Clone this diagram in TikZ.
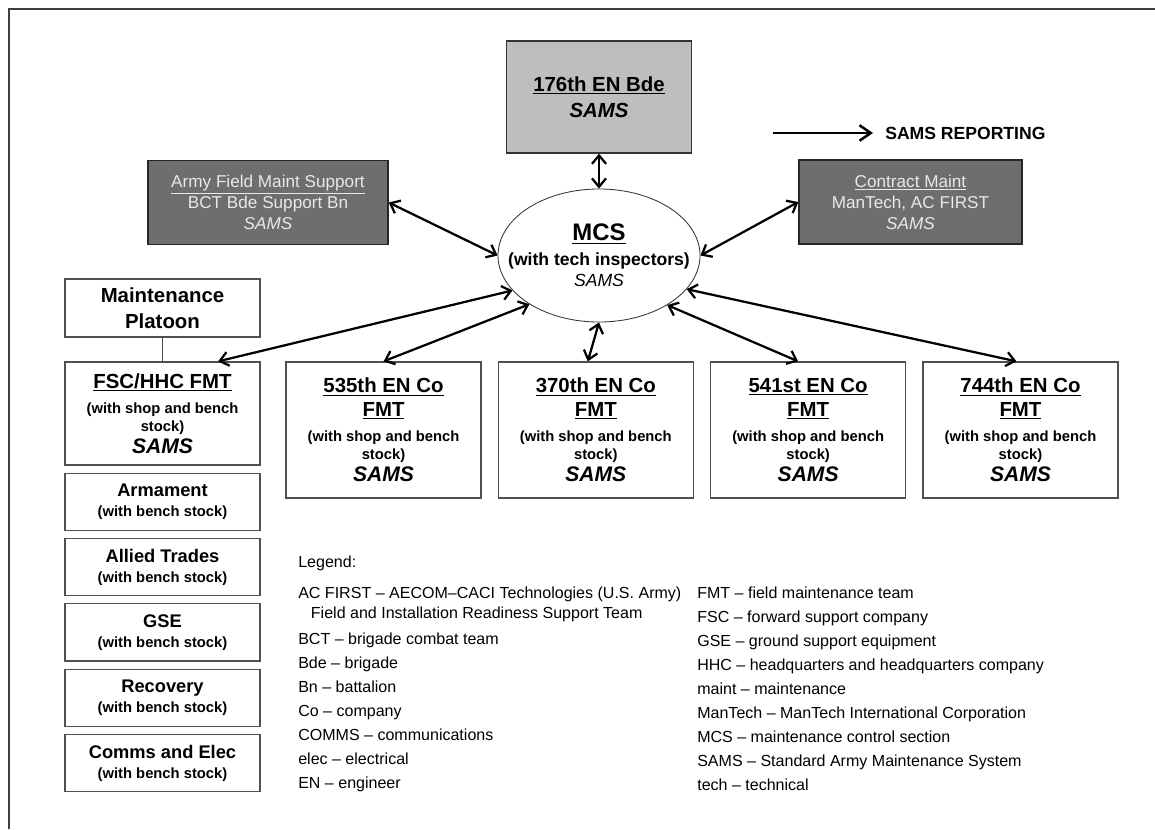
\documentclass[tikz,border=0pt]{standalone}
\usepackage{fontspec}
\setmainfont{Liberation Sans}
\usetikzlibrary{arrows.meta, positioning, shapes.geometric, calc}

\definecolor{boxline}{HTML}{505050}
\definecolor{darkfill}{HTML}{6E6E6E}
\definecolor{lightfill}{HTML}{BEBEBE}
\definecolor{paletext}{HTML}{E8E8E8}

\newcommand{\subl}{\fontsize{10.5}{12}\selectfont\bfseries}
\newcommand{\sams}{\fontsize{15}{17}\selectfont\bfseries\itshape}

\begin{document}
\begin{tikzpicture}[x=0.025cm, y=-0.025cm,
    unit/.style={draw=boxline, line width=0.9pt, fill=white, align=center, inner sep=0pt, minimum width=4.875cm},
    fmt/.style={unit, minimum height=3.4cm, font=\fontsize{14.5}{17}\selectfont\bfseries},
    shop/.style={unit, minimum height=1.425cm, font=\fontsize{13}{14.2}\selectfont\bfseries},
    outside/.style={draw=black!85, line width=1pt, fill=darkfill, text=paletext, align=center, inner sep=0pt, minimum height=2.1cm, font=\fontsize{12.2}{15}\selectfont},
    rep/.style={{Straight Barb[length=6pt,width=10pt]}-{Straight Barb[length=6pt,width=10pt]}, line width=1.6pt}
]
\useasboundingbox (0,0) rectangle (1155,829);
\draw[black!75, line width=1.2pt] (9,829) -- (9,9) -- (1155,9);

% top row
\node[unit, fill=lightfill, draw=black!80, minimum width=4.625cm, minimum height=2.8cm, font=\fontsize{14.5}{18.5}\selectfont\bfseries] (bde) at (599,97) {\underline{176th EN Bde}\\ \textit{SAMS}};
\node[outside, minimum width=6cm] (afms) at (268,202.5) {\underline{Army Field Maint Support}\\ BCT Bde Support Bn\\ \textit{SAMS}};
\node[outside, minimum width=5.575cm] (contract) at (910.5,202) {\underline{Contract Maint}\\ ManTech, AC FIRST\\ \textit{SAMS}};
\node[ellipse, draw=black!80, line width=0.6pt, fill=white, minimum width=5.05cm, minimum height=3.325cm, inner xsep=-15pt, inner ysep=0pt, align=center, font=\fontsize{12.5}{15}\selectfont] (mcs) at (599,255.5) {{\fontsize{17}{18}\selectfont\bfseries\underline{MCS}}\\[2.8pt] \textbf{(with tech inspectors)}\\ \textit{SAMS}};

% key
\coordinate (key) at (773,133);
\node[anchor=west, inner sep=0pt, font=\fontsize{12.5}{15}\selectfont\bfseries] (keytxt) at (885,133) {SAMS REPORTING};
\draw[-{Straight Barb[length=8pt,width=11pt]}, line width=1.8pt] (key) -- ([xshift=-0.3cm]keytxt.west);

% platoon column
\node[unit, minimum height=1.45cm, font=\fontsize{14.5}{18.5}\selectfont\bfseries] (plt) at (162.5,308) {Maintenance\\ Platoon};
\node[unit, minimum height=2.575cm, font=\fontsize{14.5}{17}\selectfont\bfseries] (fsc) at (162.5,413.5) {\underline{FSC/HHC FMT}\\[0.8pt] {\subl (with shop and bench}\\[-4.2pt] {\subl stock)}\\[-1.4pt] {\sams SAMS}};
\node[shop, below=0.175cm of fsc] (arm) {Armament\\ {\subl (with bench stock)}};
\node[shop, below=0.175cm of arm] (allied) {Allied Trades\\ {\subl (with bench stock)}};
\node[shop, below=0.175cm of allied] (gse) {GSE\\ {\subl (with bench stock)}};
\node[shop, below=0.175cm of gse] (recov) {Recovery\\ {\subl (with bench stock)}};
\node[shop, below=0.175cm of recov] (comms) {Comms and Elec\\ {\subl (with bench stock)}};

% company FMTs
\node[fmt] (b535) at (383.5,430) {\underline{535th EN Co}\\ \underline{FMT}\\[0.8pt] {\subl (with shop and bench}\\[-4.2pt] {\subl stock)}\\[-1.4pt] {\sams SAMS}};
\node[fmt, right=0.4cm of b535] (b370) {\underline{370th EN Co}\\ \underline{FMT}\\[0.8pt] {\subl (with shop and bench}\\[-4.2pt] {\subl stock)}\\[-1.4pt] {\sams SAMS}};
\node[fmt, right=0.4cm of b370] (b541) {\underline{541st EN Co}\\ \underline{FMT}\\[0.8pt] {\subl (with shop and bench}\\[-4.2pt] {\subl stock)}\\[-1.4pt] {\sams SAMS}};
\node[fmt, right=0.4cm of b541] (b744) {\underline{744th EN Co}\\ \underline{FMT}\\[0.8pt] {\subl (with shop and bench}\\[-4.2pt] {\subl stock)}\\[-1.4pt] {\sams SAMS}};

\draw[boxline, line width=0.9pt] (plt) -- (fsc);
\draw[rep] (bde.south) -- (mcs.north);
\draw[rep] (afms.east) -- (mcs.west);
\draw[rep] (contract.west) -- (mcs.east);
\draw[rep] (mcs.202) -- ([xshift=1.39cm]fsc.north);
\draw[rep] (mcs.215) -- (b535.north);
\draw[rep] (mcs.south) -- ([xshift=-0.2cm]b370.north);
\draw[rep] (mcs.324) -- ([xshift=-0.25cm]b541.north);
\draw[rep] (mcs.339) -- ([xshift=-0.1cm]b744.north);

% legend
\node[anchor=west, inner sep=0pt, font=\fontsize{11.4}{13}\selectfont] (legend) at (298,563) {Legend:};
\node[anchor=north west, inner sep=0pt, align=left, font=\fontsize{11.4}{17.07}\selectfont] (keyl) at (298,587) {AC FIRST -- AECOM--CACI Technologies (U.S. Army)\\[-2.8pt]
\hspace*{9pt}Field and Installation Readiness Support Team\\[0.8pt]
BCT -- brigade combat team\\ Bde -- brigade\\ Bn -- battalion\\ Co -- company\\ COMMS -- communications\\ elec -- electrical\\ EN -- engineer};
\node[anchor=north west, inner sep=0pt, align=left, font=\fontsize{11.4}{17}\selectfont] (keyr) at (697,587) {FMT -- field maintenance team\\ FSC -- forward support company\\ GSE -- ground support equipment\\ HHC -- headquarters and headquarters company\\ maint -- maintenance\\ ManTech -- ManTech International Corporation\\ MCS -- maintenance control section\\ SAMS -- Standard Army Maintenance System\\ tech -- technical};
\end{tikzpicture}
\end{document}
